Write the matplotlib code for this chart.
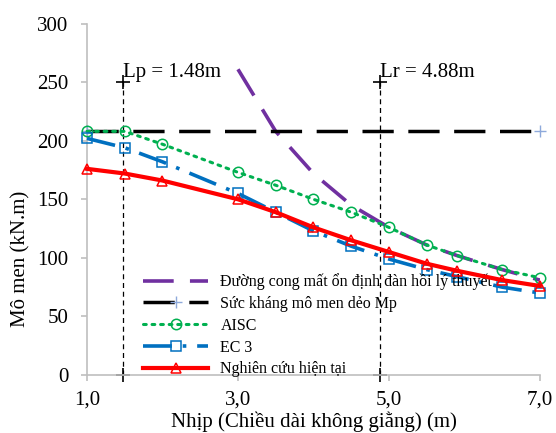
import matplotlib
matplotlib.use("Agg")
import matplotlib.pyplot as plt
from matplotlib.ticker import FixedLocator

plt.rcParams['font.family'] = ['Liberation Serif', 'DejaVu Serif']

# data
span_elastic = [3.0, 3.5, 4.0, 4.5, 5.0, 5.5, 5.9, 6.5, 7.0]
m_elastic = [261, 208, 172, 145, 126, 111, 102, 90, 81]

span_mp = [1.0, 7.0]
m_mp = [208, 208]

span = [1.0, 1.5, 2.0, 3.0, 3.5, 4.0, 4.5, 5.0, 5.5, 5.9, 6.5, 7.0]
m_aisc = [208, 208, 197, 173, 162, 150, 139, 126, 111, 102, 90, 83]
m_ec3 = [202, 194, 182, 155, 139, 123, 110, 99, 90, 84, 75, 70]
m_study = [176, 172, 166, 150, 139, 126, 115, 105, 95, 89, 81, 76]

lp, lr = 1.48, 4.88
limit_top = 250

labels = ["Đường cong mất ổn định đàn hồi lý thuyết",
          "Sức kháng mô men dẻo Mp",
          "AISC",
          "EC 3",
          "Nghiên cứu hiện tại"]

fig = plt.figure(figsize=(5.56, 4.33), dpi=100)
ax = fig.add_axes([0.1565, 0.134, 0.8145, 0.8115])

# Lp / Lr limits
for xv in (lp, lr):
    ax.plot([xv, xv], [0, limit_top], color='black', lw=0.9, linestyle=(0, (4, 3)),
            marker='+', markersize=10, markeredgewidth=1.2, zorder=1, clip_on=False)
ax.text(lp, 254, "Lp = 1.48m", fontsize=15, ha='left', va='baseline')
ax.text(lr, 254, "Lr = 4.88m", fontsize=15, ha='left', va='baseline')

ax.plot(span_elastic, m_elastic, color='#7030A0', lw=2.6, dashes=(8.5, 4.5),
        label=labels[0], zorder=2)
ax.plot(span_mp, m_mp, color='black', lw=2.5, dashes=(9, 4.2),
        marker='+', markersize=9, markeredgecolor='#8EA9DB', markeredgewidth=1.0,
        label=labels[1], zorder=3, clip_on=False)
ax.plot(span, m_aisc, color='#00B050', lw=2.2, linestyle=(0, (0.9, 1.9)),
        dash_capstyle='round', marker='o', markersize=7.5, markerfacecolor='none',
        markeredgecolor='#00B050', markeredgewidth=1.1, label=labels[2], zorder=4,
        clip_on=False)
ax.plot(span, m_ec3, color='#0070C0', lw=2.6, linestyle=(0, (8, 3, 1, 3)),
        marker='s', markersize=7.5, markerfacecolor='none',
        markeredgecolor='#0070C0', markeredgewidth=1.1, label=labels[3], zorder=5,
        clip_on=False)
ax.plot(span, m_study, color='#FF0000', lw=3.0, marker='^', markersize=7.5,
        markerfacecolor='none', markeredgecolor='#FF0000', markeredgewidth=1.1,
        label=labels[4], zorder=6, clip_on=False)

ax.set_xlim(1, 7)
ax.set_ylim(0, 300)
ax.xaxis.set_major_locator(FixedLocator([1, 3, 5, 7]))
ax.set_xticklabels(["1,0", "3,0", "5,0", "7,0"])
ax.set_yticks(range(0, 301, 50))
ax.tick_params(axis='both', labelsize=15, color='#BFBFBF', length=4.5, width=1.2)
ax.tick_params(axis='x', pad=7)
ax.tick_params(axis='y', pad=9)

for side in ('top', 'right'):
    ax.spines[side].set_visible(False)
for side in ('left', 'bottom'):
    ax.spines[side].set_color('#BFBFBF')
    ax.spines[side].set_linewidth(1.2)

ax.set_xlabel("Nhịp (Chiều dài không giằng) (m)", fontsize=15)
ax.xaxis.set_label_coords(0.5, -0.105)
ax.set_ylabel("Mô men (kN.m)", fontsize=15)
ax.yaxis.set_label_coords(-0.125, 0.33)

ax.legend(loc='upper left', bbox_to_anchor=(0.1236, 0.289), frameon=False,
          fontsize=11.5, handlelength=4.1, handletextpad=0.75, labelspacing=0.36,
          borderpad=0, borderaxespad=0, numpoints=1)

fig.savefig("out.png", dpi=100)
